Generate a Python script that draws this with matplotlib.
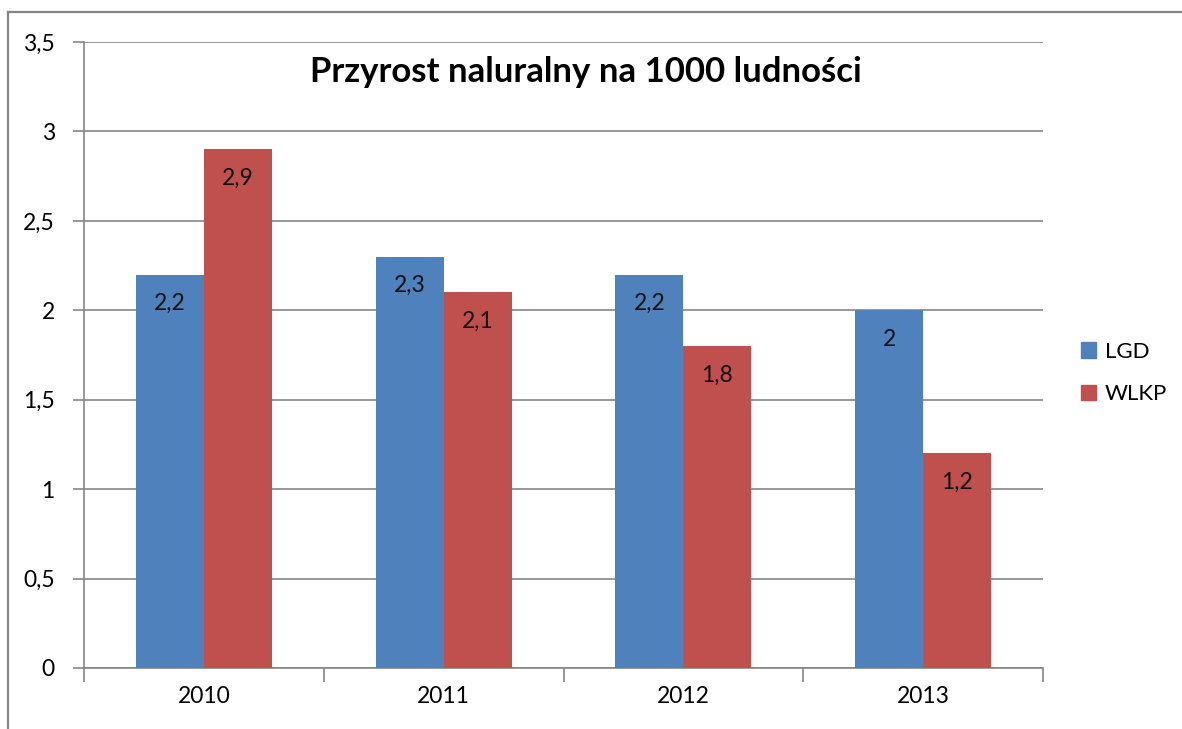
import numpy as np
import matplotlib.pyplot as plt
from matplotlib.lines import Line2D
from matplotlib.patches import Patch

years = ["2010", "2011", "2012", "2013"]
lgd = [2.2, 2.3, 2.2, 2.0]
wlkp = [2.9, 2.1, 1.8, 1.2]
series_names = ["LGD", "WLKP"]
y_ticks = [0, 0.5, 1, 1.5, 2, 2.5, 3, 3.5]

BLUE = "#4F81BD"
RED = "#C0504D"
GRAY = "#868686"

plt.rcParams["font.family"] = ["Lato", "DejaVu Sans"]


def fmt(v):
    """Polish number format: comma decimal, no trailing zero"""
    s = f"{v:g}"
    return s.replace(".", ",")


W, H = 1182, 729
fig = plt.figure(figsize=(W / 100, H / 100), dpi=100)
ax = fig.add_axes([84 / W, 1 - 668 / H, (1043 - 84) / W, (668 - 42) / H])

# outer chart border (only left and top are visible in the crop)
fig.add_artist(Line2D([8 / W, 8 / W], [0, 1 - 12 / H], color=GRAY, lw=1.6,
                      transform=fig.transFigure))
fig.add_artist(Line2D([8 / W, 1], [1 - 12 / H, 1 - 12 / H], color=GRAY, lw=1.6,
                      transform=fig.transFigure))

x = np.arange(len(years))
bw = 68 / 240
bars1 = ax.bar(x - bw / 2, lgd, bw, color=BLUE, zorder=3)
bars2 = ax.bar(x + bw / 2, wlkp, bw, color=RED, zorder=3)

for bars, vals in ((bars1, lgd), (bars2, wlkp)):
    for b, v in zip(bars, vals):
        ax.annotate(fmt(v), (b.get_x() + b.get_width() / 2, v),
                    xytext=(0, -21), textcoords="offset points",
                    ha="center", va="center", fontsize=16.5, color="#111111", zorder=4)

ax.set_xlim(-0.5, len(years) - 0.5)
ax.set_ylim(0, 3.5)

ax.set_yticks(y_ticks)
ax.set_yticklabels([fmt(v) for v in y_ticks], fontsize=16.5)
ax.yaxis.grid(True, color=GRAY, lw=1.2, zorder=0)

# ticks at category boundaries, labels at centres
ax.set_xticks(np.arange(len(years) + 1) - 0.5)
ax.set_xticklabels([])
ax.set_xticks(x, minor=True)
ax.set_xticklabels(years, minor=True, fontsize=16.5)
ax.tick_params(axis="x", which="major", length=10, width=1.2, color=GRAY, direction="out")
ax.tick_params(axis="x", which="minor", length=0, pad=13)
ax.tick_params(axis="y", length=8, width=1.2, color=GRAY, pad=13)

for s in ("top", "right"):
    ax.spines[s].set_visible(False)
for s in ("left", "bottom"):
    ax.spines[s].set_color(GRAY)
    ax.spines[s].set_linewidth(1.2)

fig.text(586 / W, 1 - 72 / H, "Przyrost naluralny na 1000 ludności",
         ha="center", va="center", fontsize=25, fontweight="bold")

handles = [Patch(color=BLUE), Patch(color=RED)]
fig.legend(handles, series_names, loc="center left",
           bbox_to_anchor=(1074 / W, 1 - 373 / H), frameon=False, fontsize=16,
           handlelength=0.7, handleheight=0.7, handletextpad=0.4, labelspacing=1.0,
           borderaxespad=0, borderpad=0.3)

fig.savefig("out.png", dpi=100)
